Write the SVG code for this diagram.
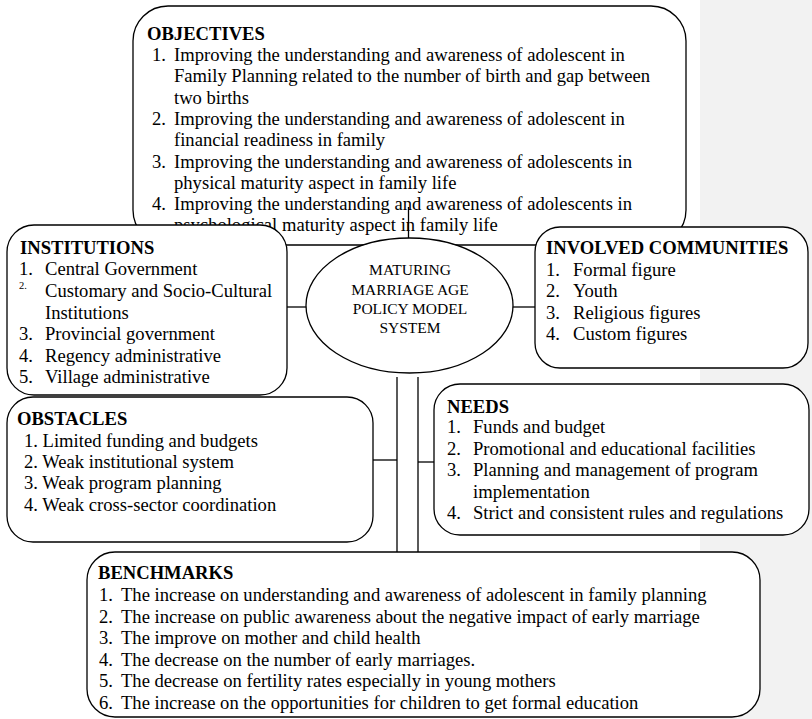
<svg xmlns="http://www.w3.org/2000/svg" width="812" height="719" viewBox="0 0 812 719">
<style>
.box{fill:#fff;stroke:#000;stroke-width:1.3}
.ln{stroke:#000;stroke-width:1.3;fill:none}
text{font-family:"Liberation Serif","Times New Roman",serif;font-size:18.6px;fill:#000}
.h{font-weight:bold}
.e{font-size:15.5px;text-anchor:middle}
.sup{font-size:10.5px}
</style>
<rect x="700" y="0" width="112" height="719" fill="#f2f2f2"/>
<g id="objectives">
<rect class="box" x="133" y="6" width="553" height="239" rx="35" ry="35"/>
<text class="h" x="147" y="40">OBJECTIVES</text>
<text x="152" y="61">1.</text><text x="174" y="61">Improving the understanding and awareness of adolescent in</text>
<text x="174" y="82.3">Family Planning related to the number of birth and gap between</text>
<text x="174" y="103.6">two births</text>
<text x="152" y="124.9">2.</text><text x="174" y="124.9">Improving the understanding and awareness of adolescent in</text>
<text x="174" y="146.2">financial readiness in family</text>
<text x="152" y="167.5">3.</text><text x="174" y="167.5">Improving the understanding and awareness of adolescents in</text>
<text x="174" y="188.8">physical maturity aspect in family life</text>
<text x="152" y="210.1">4.</text><text x="174" y="210.1">Improving the understanding and awareness of adolescents in</text>
<text x="174" y="231.4">psychological maturity aspect in family life</text>
</g>
<g id="connectors">
<line class="ln" x1="408.5" y1="207" x2="408.5" y2="240"/>
<line class="ln" x1="287" y1="307" x2="307" y2="307"/>
<line class="ln" x1="512" y1="307" x2="535" y2="307"/>
<line class="ln" x1="397" y1="377" x2="397" y2="552"/>
<line class="ln" x1="418" y1="377" x2="418" y2="552"/>
<line class="ln" x1="373" y1="460" x2="397" y2="460"/>
<line class="ln" x1="418" y1="462" x2="434" y2="462"/>
</g>
<g id="institutions">
<rect class="box" x="7" y="225" width="280" height="170" rx="27" ry="27"/>
<text class="h" x="20" y="254">INSTITUTIONS</text>
<text x="19" y="275">1.</text><text x="45" y="275">Central Government</text>
<text class="sup" x="19" y="289">2.</text><text x="45" y="297">Customary and Socio-Cultural</text>
<text x="45" y="319">Institutions</text>
<text x="19" y="340">3.</text><text x="45" y="340">Provincial government</text>
<text x="19" y="362">4.</text><text x="45" y="362">Regency administrative</text>
<text x="19" y="383">5.</text><text x="45" y="383">Village administrative</text>
</g>
<g id="involved">
<rect class="box" x="535" y="227" width="273" height="141" rx="25" ry="25"/>
<text class="h" x="546" y="254">INVOLVED COMMUNITIES</text>
<text x="546" y="276">1.</text><text x="573" y="276">Formal figure</text>
<text x="546" y="297">2.</text><text x="573" y="297">Youth</text>
<text x="546" y="319">3.</text><text x="573" y="319">Religious figures</text>
<text x="546" y="340">4.</text><text x="573" y="340">Custom figures</text>
</g>
<g id="center">
<ellipse class="box" cx="409.5" cy="305.5" rx="103.5" ry="67.5"/>
<text class="e" x="410" y="275">MATURING</text>
<text class="e" x="410" y="295">MARRIAGE AGE</text>
<text class="e" x="410" y="314">POLICY MODEL</text>
<text class="e" x="410" y="333">SYSTEM</text>
</g>
<g id="obstacles">
<rect class="box" x="7" y="397" width="366" height="145" rx="26" ry="26"/>
<text class="h" x="17" y="425">OBSTACLES</text>
<text x="24" y="447">1. Limited funding and budgets</text>
<text x="24" y="468">2. Weak institutional system</text>
<text x="24" y="489">3. Weak program planning</text>
<text x="24" y="511">4. Weak cross-sector coordination</text>
</g>
<g id="needs">
<rect class="box" x="434" y="384" width="375" height="151" rx="26" ry="26"/>
<text class="h" x="447" y="413">NEEDS</text>
<text x="447" y="433">1.</text><text x="473" y="433">Funds and budget</text>
<text x="447" y="454.5">2.</text><text x="473" y="454.5">Promotional and educational facilities</text>
<text x="447" y="476">3.</text><text x="473" y="476">Planning and management of program</text>
<text x="473" y="497.5">implementation</text>
<text x="447" y="519">4.</text><text x="473" y="519">Strict and consistent rules and regulations</text>
</g>
<g id="benchmarks">
<rect class="box" x="87" y="552" width="673" height="165" rx="28" ry="28"/>
<text class="h" x="98" y="579">BENCHMARKS</text>
<text x="99" y="601">1.</text><text x="121" y="601">The increase on understanding and awareness of adolescent in family planning</text>
<text x="99" y="622.5">2.</text><text x="121" y="622.5">The increase on public awareness about the negative impact of early marriage</text>
<text x="99" y="644">3.</text><text x="121" y="644">The improve on mother and child health</text>
<text x="99" y="665.5">4.</text><text x="121" y="665.5">The decrease on the number of early marriages.</text>
<text x="99" y="687">5.</text><text x="121" y="687">The decrease on fertility rates especially in young mothers</text>
<text x="99" y="708.5">6.</text><text x="121" y="708.5">The increase on the opportunities for children to get formal education</text>
</g>
</svg>
